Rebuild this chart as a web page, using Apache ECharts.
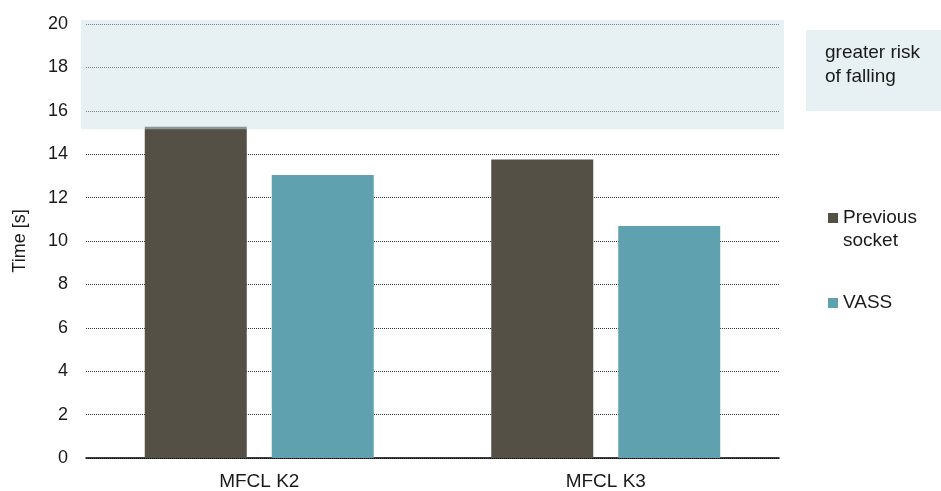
<!DOCTYPE html>
<html>
<head>
<meta charset="utf-8">
<script src="https://cdn.jsdelivr.net/npm/echarts@6/dist/echarts.min.js"></script>
<style>
html,body{margin:0;padding:0;background:#fff;}
#chart{width:941px;height:491px;}
</style>
</head>
<body>
<div id="chart"></div>
<script>
const categories = ['MFCL K2', 'MFCL K3'];
const previousSocket = [15.27, 13.76];
const vass = [13.04, 10.69];
const yTicks = [0, 2, 4, 6, 8, 10, 12, 14, 16, 18, 20];
const riskBand = [15.15, 20.18];
const riskLabel = 'greater risk\nof falling';

const FONT = '"Liberation Sans", Arial, sans-serif';
const TXT = '#1a1a1a';

const chart = echarts.init(document.getElementById('chart'), null, {renderer: 'canvas'});
chart.setOption({
  animation: false,
  grid: {left: 86, right: 162, top: 24, bottom: 33, containLabel: false},
  legend: {
    orient: 'vertical',
    left: 828,
    top: 183.5,
    padding: 0,
    itemWidth: 10,
    itemHeight: 10,
    itemGap: 39,
    icon: 'rect',
    textStyle: {fontFamily: FONT, fontSize: 19, lineHeight: 23, color: TXT},
    formatter: n => n === 'Previous socket' ? '\nPrevious\nsocket' : n,
    data: ['Previous socket', 'VASS']
  },
  xAxis: {
    type: 'category',
    data: categories,
    axisLine: {lineStyle: {color: '#000', width: 1.5}},
    axisTick: {show: false},
    axisLabel: {fontFamily: FONT, fontSize: 19, color: TXT, margin: 14}
  },
  yAxis: {
    type: 'value',
    min: yTicks[0],
    max: yTicks[yTicks.length - 1],
    interval: 2,
    name: 'Time [s]',
    nameLocation: 'middle',
    nameGap: 57,
    nameTextStyle: {fontFamily: FONT, fontSize: 18, color: TXT},
    axisLine: {show: false},
    axisTick: {show: false},
    axisLabel: {fontFamily: FONT, fontSize: 18, color: TXT, margin: 18},
    splitLine: {lineStyle: {color: '#333', width: 1, type: [1, 1]}}
  },
  series: [
    {name: 'Previous socket', type: 'bar', data: previousSocket, barWidth: 102, barGap: '24.5%',
     itemStyle: {color: '#555046'}},
    {name: 'VASS', type: 'bar', data: vass, barWidth: 102,
     itemStyle: {color: '#5fa1af'}}
  ]
});

function drawOverlay() {
  const yTop = chart.convertToPixel({yAxisIndex: 0}, riskBand[1]);
  const yBot = chart.convertToPixel({yAxisIndex: 0}, riskBand[0]);
  const grid = chart.getModel().getComponent('grid').coordinateSystem.getRect();
  chart.setOption({
    graphic: [
      {type: 'rect', z: 50, silent: true,
       shape: {x: grid.x - 5, y: yTop, width: grid.width + 10, height: yBot - yTop},
       style: {fill: 'rgba(205,224,230,0.48)'}},
      {type: 'rect', z: 50, silent: true,
       shape: {x: 806, y: 30, width: 135, height: 81},
       style: {fill: '#e7f0f3'}},
      {type: 'text', z: 51, silent: true, x: 825, y: 41,
       style: {text: riskLabel, font: '19px ' + FONT, lineHeight: 24, fill: TXT,
               verticalAlign: 'top', align: 'left'}}
    ]
  });
}
drawOverlay();
</script>
</body>
</html>
